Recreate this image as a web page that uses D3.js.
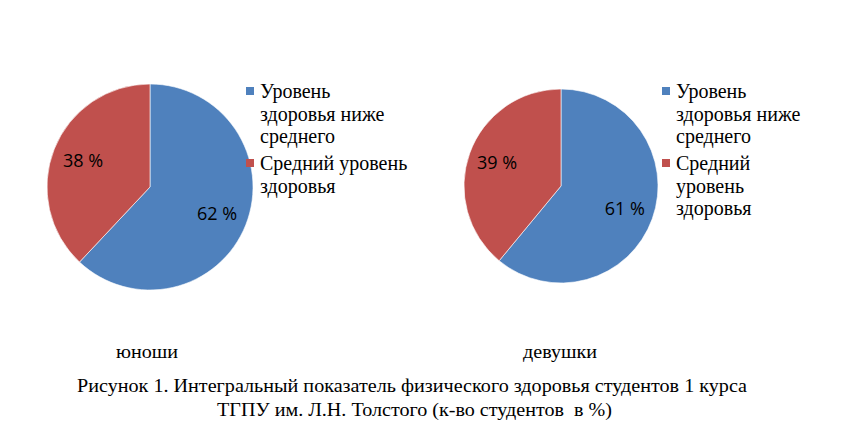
<!DOCTYPE html>
<html><head><meta charset="utf-8">
<script src="https://cdn.jsdelivr.net/npm/d3@7"></script>
<style>body{margin:0;background:#fff}</style>
</head><body>
<svg id="c" width="865" height="439"></svg>
<script>
const groups = ["юноши", "девушки"];
const categories = ["Уровень здоровья ниже среднего", "Средний уровень здоровья"];
const valuesBoys = [62, 38];
const valuesGirls = [61, 39];
const legendLinesBoys = [["Уровень", "здоровья ниже", "среднего"], ["Средний уровень", "здоровья"]];
const legendLinesGirls = [["Уровень", "здоровья ниже", "среднего"], ["Средний", "уровень", "здоровья"]];
const captionLines = ["Рисунок 1. Интегральный показатель физического здоровья студентов 1 курса", "ТГПУ им. Л.Н. Толстого (к-во студентов \u00a0в %)"];

const colors = d3.scaleOrdinal().domain(categories).range(["#4F81BD", "#C0504D"]);
const svg = d3.select("#c");
const serif = "'Liberation Serif', 'Times New Roman', serif";

const charts = [
  {name: groups[0], values: valuesBoys, legend: legendLinesBoys, cx: 150, cy: 187, r: 103, lx: 246, gx: 147, gw: 62},
  {name: groups[1], values: valuesGirls, legend: legendLinesGirls, cx: 561, cy: 186, r: 97, lx: 662, gx: 560, gw: 74}
];

const pie = d3.pie().sort(null).value(d => d.v);

charts.forEach(ch => {
  const data = ch.values.map((v, i) => ({v, cat: categories[i]}));
  const arcs = pie(data);
  const arc = d3.arc().innerRadius(0).outerRadius(ch.r);
  const labelArc = d3.arc().innerRadius(ch.r * 0.7).outerRadius(ch.r * 0.7);
  const g = svg.append("g").attr("transform", `translate(${ch.cx},${ch.cy})`);
  g.selectAll("path").data(arcs).join("path")
    .attr("d", arc)
    .attr("fill", d => colors(d.data.cat))
    .attr("stroke", "#ffffff").attr("stroke-opacity", 0.6).attr("stroke-width", 1);
  g.selectAll("text").data(arcs).join("text")
    .attr("transform", d => `translate(${labelArc.centroid(d)})`)
    .attr("text-anchor", "middle").attr("dy", "0.36em")
    .attr("font-family", "'Open Sans', 'Noto Sans', sans-serif")
    .attr("font-size", 18).attr("fill", "#000")
    .text(d => d.data.v + " %");

  const lg = svg.append("g");
  let y = 98;
  ch.legend.forEach((lines, i) => {
    lg.append("rect").attr("x", ch.lx).attr("y", y - 11).attr("width", 8).attr("height", 8)
      .attr("fill", colors(categories[i]));
    lines.forEach(ln => {
      lg.append("text").attr("x", ch.lx + 14).attr("y", y)
        .attr("font-family", serif)
        .attr("font-size", 20).attr("fill", "#000").text(ln);
      y += 22.5;
    });
    y += 4.5;
  });

  svg.append("text").attr("x", ch.gx).attr("y", 358).attr("text-anchor", "middle")
    .attr("font-family", serif).attr("textLength", ch.gw).attr("lengthAdjust", "spacingAndGlyphs")
    .attr("font-size", 19).attr("fill", "#000").text(ch.name);
});

const capWidths = [670, 395];
svg.selectAll("text.cap").data(captionLines).join("text").attr("class", "cap")
  .attr("x", (d, i) => i === 0 ? 412 : 414.5).attr("y", (d, i) => 392 + i * 23.5).attr("text-anchor", "middle")
  .attr("font-family", serif)
  .attr("textLength", (d, i) => capWidths[i]).attr("lengthAdjust", "spacingAndGlyphs")
  .attr("font-size", 19).attr("fill", "#000").text(d => d);
</script>
</body></html>
